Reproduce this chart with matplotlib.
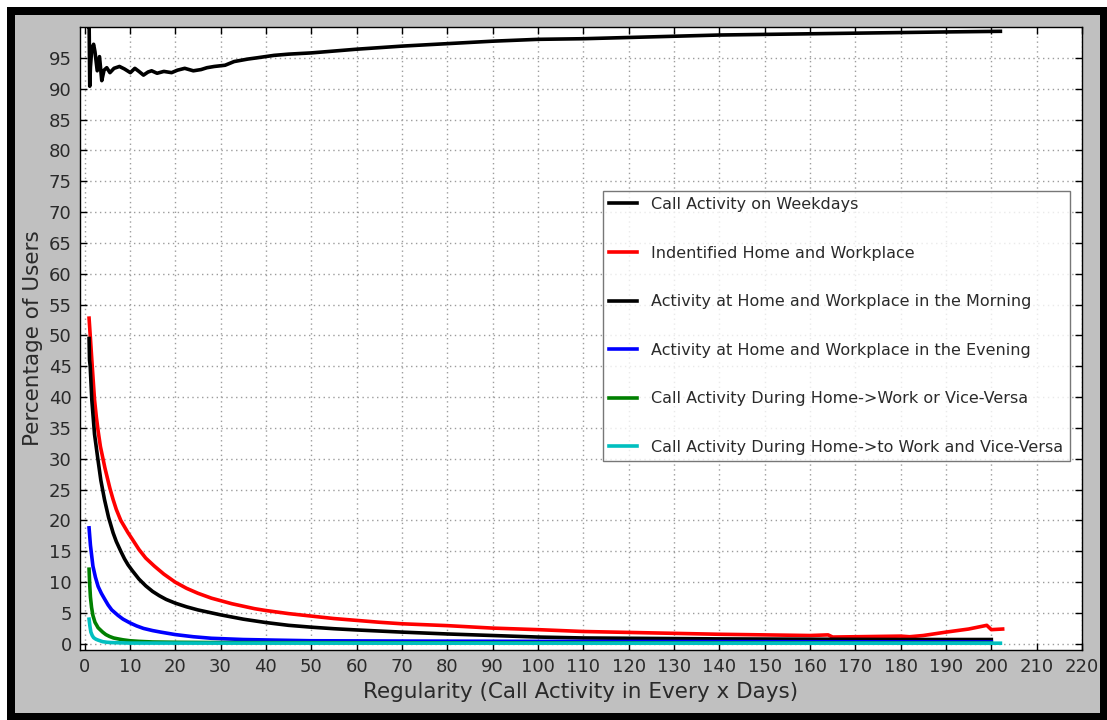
import matplotlib
matplotlib.use("Agg")
import matplotlib.pyplot as plt
from matplotlib.patches import Rectangle

# Regularity (days) and percentage of users for each behaviour series
weekday_x = [1, 1.02, 1.15, 1.3, 1.6, 2.0, 2.3, 2.8, 3.3, 3.8, 4.3, 4.9, 5.6, 6.5, 7.7,
             8.8, 10.1, 11.1, 12, 13, 14, 14.8, 16, 17.5, 19.2, 20.5, 22.1, 24, 25.7,
             27, 28.6, 31, 33, 36, 38, 41.8, 45, 50, 55, 60, 70, 80, 90, 100, 110,
             120, 130, 140, 150, 160, 170, 180, 190, 202]
weekday_y = [100, 100, 90.4, 93.5, 96.5, 97.2, 96.0, 92.9, 95.2, 91.3, 93.0, 93.4, 92.6,
             93.3, 93.6, 93.2, 92.6, 93.3, 92.8, 92.2, 92.7, 92.9, 92.5, 92.8, 92.6,
             93.0, 93.3, 92.9, 93.1, 93.4, 93.6, 93.8, 94.4, 94.8, 95.0, 95.4, 95.6,
             95.8, 96.1, 96.4, 96.9, 97.3, 97.7, 98.0, 98.1, 98.3, 98.5, 98.7, 98.8,
             98.9, 99.0, 99.1, 99.2, 99.3]

home_work_x = [1, 1.3, 1.7, 2.2, 2.6, 3, 3.5, 4.1, 4.5, 5, 5.6, 6.3, 7, 8, 8.8, 9.6,
               10.5, 12, 13.5, 15.4, 17.5, 20, 22.5, 25, 28, 30, 32.5, 35, 37.5, 40,
               45, 50, 55, 60, 65, 70, 80, 90, 100, 110, 120, 130, 140, 150, 160, 164,
               165, 170, 175, 180, 182, 185, 190, 195, 199, 200, 202.5]
home_work_y = [52.8, 49.5, 45.0, 39.6, 36.8, 34.5, 32.0, 29.9, 28.5, 27.0, 25.2, 23.4,
               21.8, 20.0, 19.0, 18.0, 17.0, 15.3, 13.9, 12.6, 11.3, 10.0, 9.0, 8.2,
               7.4, 7.0, 6.5, 6.1, 5.7, 5.4, 4.9, 4.5, 4.1, 3.8, 3.5, 3.25, 2.95, 2.55,
               2.3, 2.0, 1.85, 1.7, 1.55, 1.45, 1.35, 1.45, 1.1, 1.15, 1.2, 1.25, 1.15,
               1.35, 1.9, 2.4, 3.0, 2.3, 2.4]

morning_x = [1, 1.1, 1.25, 1.6, 2.2, 2.95, 3.6, 4.4, 5.3, 6.3, 7, 8, 8.8, 9.6, 10.5,
             12, 13.5, 15, 16.5, 18, 20, 22.5, 25, 27.5, 30, 35, 40, 45, 50, 55, 60,
             70, 80, 90, 100, 110, 120, 140, 160, 180, 200]
morning_y = [49.5, 46.0, 45.0, 39.6, 34.0, 29.9, 26.5, 23.4, 20.5, 18.0, 16.6, 15.0,
             13.8, 12.8, 11.9, 10.5, 9.4, 8.5, 7.8, 7.2, 6.6, 6.0, 5.5, 5.1, 4.7, 4.0,
             3.45, 3.0, 2.7, 2.45, 2.25, 1.9, 1.6, 1.35, 1.1, 0.95, 0.9, 0.8, 0.75,
             0.7, 0.7]

evening_x = [1, 1.3, 1.85, 2.4, 3, 3.7, 4.4, 5.2, 6, 7.4, 8.5, 10, 11.5, 13, 15, 16.8,
             20, 24, 28, 35, 42, 50, 70, 100, 150, 200]
evening_y = [18.8, 16.0, 12.6, 10.8, 9.3, 8.2, 7.3, 6.3, 5.5, 4.6, 4.0, 3.4, 2.9, 2.5,
             2.15, 1.9, 1.5, 1.15, 0.9, 0.7, 0.6, 0.5, 0.45, 0.4, 0.35, 0.3]

commute_or_x = [1, 1.15, 1.3, 1.55, 1.85, 2.3, 3, 4, 4.7, 5.5, 6.4, 7.4, 8.5, 10, 12,
                15, 20, 30, 100, 200]
commute_or_y = [12.1, 9.5, 7.6, 5.9, 4.6, 3.5, 2.6, 1.9, 1.5, 1.2, 0.95, 0.8, 0.65,
                0.5, 0.4, 0.3, 0.25, 0.2, 0.15, 0.1]

commute_and_x = [1, 1.2, 1.4, 1.7, 2, 2.5, 3, 4, 5, 6, 10, 100, 202]
commute_and_y = [4.0, 2.8, 1.9, 1.35, 1.0, 0.75, 0.6, 0.35, 0.25, 0.2, 0.12, 0.1, 0.1]

labels = ["Call Activity on Weekdays",
          "Indentified Home and Workplace",
          "Activity at Home and Workplace in the Morning",
          "Activity at Home and Workplace in the Evening",
          "Call Activity During Home->Work or Vice-Versa",
          "Call Activity During Home->to Work and Vice-Versa"]
colors = ["#000000", "#ff0000", "#000000", "#0000ff", "#008000", "#00bfbf"]

x_ticks = list(range(0, 221, 10))
y_ticks = list(range(0, 96, 5))

W, H = 1107, 720
fig = plt.figure(figsize=(W / 100, H / 100), dpi=100, facecolor="white")

# dark frame with a grey panel inside
fig.add_artist(Rectangle((7 / W, 0), 1100 / W, 713 / H, transform=fig.transFigure,
                         facecolor="black", edgecolor="none", zorder=-20))
fig.add_artist(Rectangle((15 / W, 7 / H), 1085 / W, 698 / H, transform=fig.transFigure,
                         facecolor="#c0c0c0", edgecolor="none", zorder=-19))

ax = fig.add_axes([80 / W, (H - 650) / H, (1082 - 80) / W, (650 - 27) / H])
ax.set_facecolor("white")

series = [(weekday_x, weekday_y), (home_work_x, home_work_y), (morning_x, morning_y),
          (evening_x, evening_y), (commute_or_x, commute_or_y),
          (commute_and_x, commute_and_y)]
for (xs, ys), lab, col in zip(series, labels, colors):
    ax.plot(xs, ys, color=col, lw=2.6, label=lab, solid_joinstyle="round")

ax.set_xlim(-1, 220)
ax.set_ylim(-1, 100)
ax.set_xticks(x_ticks)
ax.set_yticks(y_ticks)
ax.grid(True, linestyle=(0, (1, 2.5)), color="#9c9c9c", linewidth=1.0)
ax.tick_params(direction="in", top=True, right=True, length=5, width=1,
               labelsize=13, labelcolor="#2a2a2a", pad=6)
for s in ax.spines.values():
    s.set_linewidth(1.0)
    s.set_color("black")

ax.set_xlabel("Regularity (Call Activity in Every x Days)", fontsize=15.5,
              color="#2a2a2a", labelpad=4)
ax.set_ylabel("Percentage of Users", fontsize=15.5, color="#2a2a2a", labelpad=4)

leg = ax.legend(loc="upper left", bbox_to_anchor=((603 - 80) / 1002, (650 - 191) / 623),
                borderaxespad=0, fontsize=11.5, labelspacing=2.1, handlelength=1.75,
                handletextpad=0.9, frameon=True, fancybox=False, borderpad=0.38)
leg.get_frame().set_edgecolor("#555555")
leg.get_frame().set_linewidth(1.0)
for t in leg.get_texts():
    t.set_color("#2a2a2a")

fig.savefig("out.png", dpi=100, facecolor=fig.get_facecolor())
